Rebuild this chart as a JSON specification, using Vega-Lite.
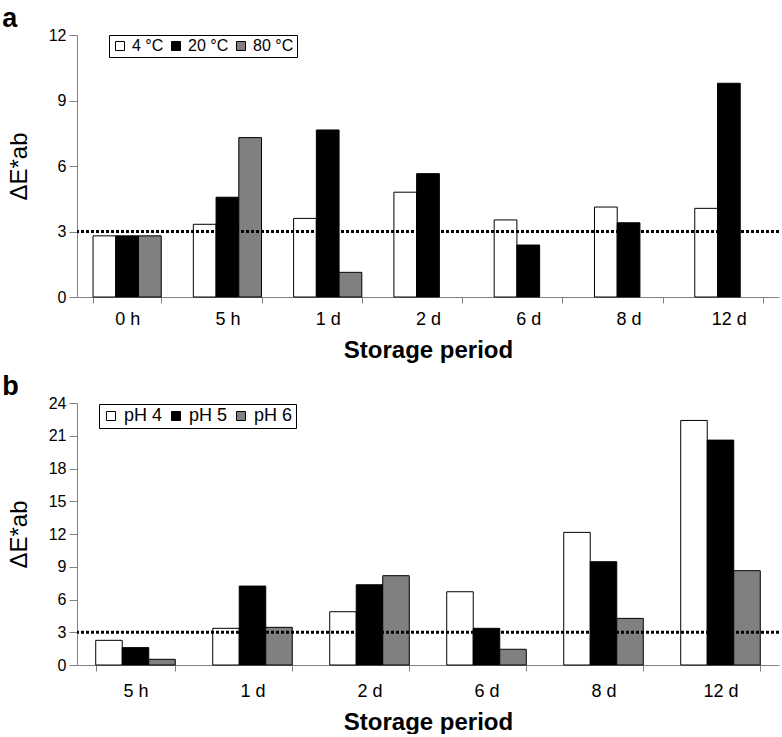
{
  "$schema": "https://vega.github.io/schema/vega-lite/v6.json",
  "padding": {"left": 2, "top": 5, "right": 0, "bottom": 0},
  "background": "white",
  "config": {
    "font": "Liberation Sans",
    "view": {"stroke": null},
    "axis": {"domainColor": "#808080", "tickColor": "#808080", "labelColor": "black", "titleColor": "black", "grid": false, "labelOverlap": false},
    "legend": {
      "orient": "none", "direction": "horizontal", "strokeColor": "black", "fillColor": "white",
      "padding": 3, "symbolType": "square", "symbolSize": 81, "symbolStrokeColor": "black",
      "symbolStrokeWidth": 1, "labelOffset": 4, "columnPadding": 4, "title": null, "labelColor": "black"
    },
    "title": {"anchor": "start", "frame": "bounds", "fontSize": 27, "fontWeight": "bold", "color": "black", "offset": -6, "dx": -5}
  },
  "datasets": {
    "a": [
      {"period": "0 h", "temp": "4 °C", "dE": 2.8},
      {"period": "0 h", "temp": "20 °C", "dE": 2.8},
      {"period": "0 h", "temp": "80 °C", "dE": 2.8},
      {"period": "5 h", "temp": "4 °C", "dE": 3.33},
      {"period": "5 h", "temp": "20 °C", "dE": 4.57},
      {"period": "5 h", "temp": "80 °C", "dE": 7.3},
      {"period": "1 d", "temp": "4 °C", "dE": 3.6},
      {"period": "1 d", "temp": "20 °C", "dE": 7.65},
      {"period": "1 d", "temp": "80 °C", "dE": 1.13},
      {"period": "2 d", "temp": "4 °C", "dE": 4.8},
      {"period": "2 d", "temp": "20 °C", "dE": 5.65},
      {"period": "6 d", "temp": "4 °C", "dE": 3.53},
      {"period": "6 d", "temp": "20 °C", "dE": 2.38},
      {"period": "8 d", "temp": "4 °C", "dE": 4.12},
      {"period": "8 d", "temp": "20 °C", "dE": 3.4},
      {"period": "12 d", "temp": "4 °C", "dE": 4.06},
      {"period": "12 d", "temp": "20 °C", "dE": 9.79}
    ],
    "b": [
      {"period": "5 h", "ph": "pH 4", "dE": 2.26},
      {"period": "5 h", "ph": "pH 5", "dE": 1.59},
      {"period": "5 h", "ph": "pH 6", "dE": 0.52},
      {"period": "1 d", "ph": "pH 4", "dE": 3.36},
      {"period": "1 d", "ph": "pH 5", "dE": 7.23},
      {"period": "1 d", "ph": "pH 6", "dE": 3.45},
      {"period": "2 d", "ph": "pH 4", "dE": 4.88},
      {"period": "2 d", "ph": "pH 5", "dE": 7.35},
      {"period": "2 d", "ph": "pH 6", "dE": 8.18},
      {"period": "6 d", "ph": "pH 4", "dE": 6.71},
      {"period": "6 d", "ph": "pH 5", "dE": 3.36},
      {"period": "6 d", "ph": "pH 6", "dE": 1.44},
      {"period": "8 d", "ph": "pH 4", "dE": 12.15},
      {"period": "8 d", "ph": "pH 5", "dE": 9.46},
      {"period": "8 d", "ph": "pH 6", "dE": 4.27},
      {"period": "12 d", "ph": "pH 4", "dE": 22.4},
      {"period": "12 d", "ph": "pH 5", "dE": 20.6},
      {"period": "12 d", "ph": "pH 6", "dE": 8.64}
    ],
    "threshold": [{"limit": 3}]
  },
  "vconcat": [
    {
      "title": {"text": "a"},
      "width": 702,
      "height": 262,
      "layer": [
        {
          "data": {"name": "a"},
          "mark": {"type": "bar", "stroke": "black", "strokeWidth": 1},
          "encoding": {
            "x": {
              "field": "period", "type": "nominal",
              "sort": ["0 h", "5 h", "1 d", "2 d", "6 d", "8 d", "12 d"],
              "scale": {"paddingInner": 0.32, "paddingOuter": 0.16},
              "axis": {"title": "Storage period", "labelAngle": 0, "tickBand": "extent", "labelFontSize": 18, "titleFontSize": 24, "titleFontWeight": "bold", "tickSize": 6, "labelPadding": 7, "titlePadding": 10}
            },
            "xOffset": {
              "field": "temp", "type": "nominal",
              "scale": {"domain": ["4 °C", "20 °C", "80 °C"], "paddingInner": 0, "paddingOuter": 0}
            },
            "y": {
              "field": "dE", "type": "quantitative",
              "scale": {"domain": [0, 12]},
              "axis": {"values": [0, 3, 6, 9, 12], "labelOverlap": false, "title": "ΔE*ab", "labelFontSize": 16, "tickSize": 8, "labelPadding": 3, "titleFontSize": 24, "titleFontWeight": "normal", "titlePadding": 17}
            },
            "color": {
              "field": "temp", "type": "nominal",
              "scale": {"domain": ["4 °C", "20 °C", "80 °C"], "range": ["white", "black", "#808080"]},
              "legend": {"legendX": 32, "legendY": 0, "labelFontSize": 16}
            }
          }
        },
        {
          "data": {"name": "threshold"},
          "mark": {"type": "rule", "strokeDash": [3, 2], "strokeWidth": 3, "color": "black"},
          "encoding": {
            "y": {
              "field": "limit", "type": "quantitative",
              "axis": {"values": [0, 3, 6, 9, 12], "labelOverlap": false, "title": "ΔE*ab", "labelFontSize": 16, "tickSize": 8, "labelPadding": 3, "titleFontSize": 24, "titleFontWeight": "normal", "titlePadding": 17}
            }
          }
        }
      ]
    },
    {
      "title": {"text": "b"},
      "width": 702,
      "height": 262,
      "layer": [
        {
          "data": {"name": "b"},
          "mark": {"type": "bar", "stroke": "black", "strokeWidth": 1},
          "encoding": {
            "x": {
              "field": "period", "type": "nominal",
              "sort": ["5 h", "1 d", "2 d", "6 d", "8 d", "12 d"],
              "scale": {"paddingInner": 0.32, "paddingOuter": 0.16},
              "axis": {"title": "Storage period", "labelAngle": 0, "tickBand": "extent", "labelFontSize": 18, "titleFontSize": 24, "titleFontWeight": "bold", "tickSize": 6, "labelPadding": 11, "titlePadding": 10}
            },
            "xOffset": {
              "field": "ph", "type": "nominal",
              "scale": {"domain": ["pH 4", "pH 5", "pH 6"], "paddingInner": 0, "paddingOuter": 0}
            },
            "y": {
              "field": "dE", "type": "quantitative",
              "scale": {"domain": [0, 24]},
              "axis": {"values": [0, 3, 6, 9, 12, 15, 18, 21, 24], "labelOverlap": false, "title": "ΔE*ab", "labelFontSize": 16, "tickSize": 8, "labelPadding": 3, "titleFontSize": 24, "titleFontWeight": "normal", "titlePadding": 17}
            },
            "color": {
              "field": "ph", "type": "nominal",
              "scale": {"domain": ["pH 4", "pH 5", "pH 6"], "range": ["white", "black", "#808080"]},
              "legend": {"legendX": 22, "legendY": 1, "labelFontSize": 18}
            }
          }
        },
        {
          "data": {"name": "threshold"},
          "mark": {"type": "rule", "strokeDash": [3, 2], "strokeWidth": 3, "color": "black"},
          "encoding": {
            "y": {
              "field": "limit", "type": "quantitative",
              "axis": {"values": [0, 3, 6, 9, 12, 15, 18, 21, 24], "labelOverlap": false, "title": "ΔE*ab", "labelFontSize": 16, "tickSize": 8, "labelPadding": 3, "titleFontSize": 24, "titleFontWeight": "normal", "titlePadding": 17}
            }
          }
        }
      ]
    }
  ],
  "spacing": 11,
  "resolve": {"scale": {"color": "independent", "x": "independent", "y": "independent", "xOffset": "independent"}, "legend": {"color": "independent"}}
}
